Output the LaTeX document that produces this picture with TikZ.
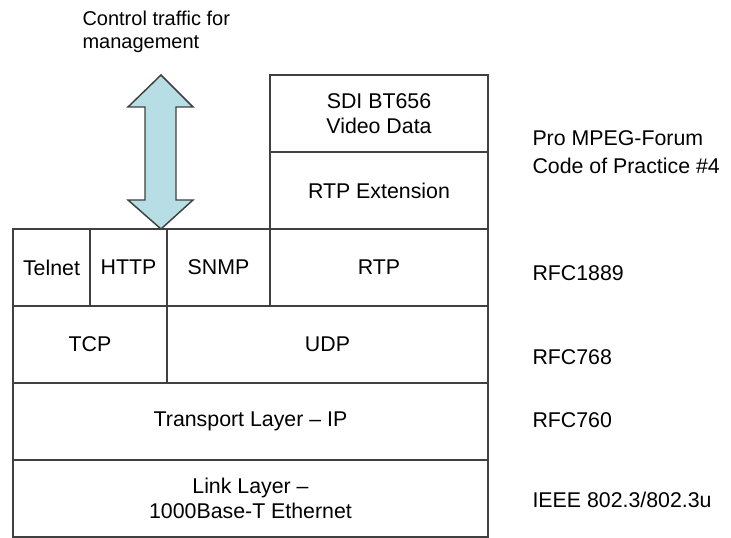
\documentclass[tikz,border=0pt]{standalone}
\usepackage{fontspec}
\setmainfont{Liberation Sans}

\tikzset{every picture/.style={line width=0.75pt}}
\tikzset{
	layer/.style={draw={rgb, 255:red, 64; green, 64; blue, 64 }, line width=1.1pt, inner sep=0pt, align=center,
		minimum width={#1*0.75pt}, minimum height=57.75pt, font=\fontsize{16pt}{19pt}\selectfont},
	note/.style={anchor=west, inner sep=0pt, align=left, font=\fontsize{16pt}{19pt}\selectfont}}

\begin{document}
\begin{tikzpicture}[x=0.75pt,y=0.75pt,yscale=-1,xscale=1]
	\useasboundingbox (0,0) rectangle (731,538);

	%Shape: Rectangle -- video stack
	\node [layer=218] (sdi) at (379,113.5) {SDI BT656\\Video Data};
	\node [layer=218] (rtpext) at (379,190.5) {RTP Extension};
	%Shape: Rectangle -- application row
	\node [layer=77] (telnet) at (51.5,267.5) {Telnet};
	\node [layer=77] (http) at (128.5,267.5) {HTTP};
	\node [layer=103] (snmp) at (218.5,267.5) {SNMP};
	\node [layer=218] (rtp) at (379,267.5) {RTP};
	%Shape: Rectangle -- transport row
	\node [layer=154] (tcp) at (90,344.5) {TCP};
	\node [layer=321] (udp) at (327.5,344.5) {UDP};
	%Shape: Rectangle -- lower layers
	\node [layer=475] (ip) at (250.5,421.5) {Transport Layer -- IP};
	\node [layer=475] (link) at (250.5,498.5) {Link Layer --\\1000Base-T Ethernet};

	%Shape: Up Down Arrow
	\draw [draw={rgb, 255:red, 64; green, 64; blue, 64 }, fill={rgb, 255:red, 183; green, 221; blue, 229 }, line width=1.1pt]
		(161,75) -- (193,107) -- (176,107) -- (176,200) -- (193,200) -- (161,229) -- (128,200) -- (145,200) -- (145,107) -- (128,107) -- cycle ;

	% Text Node
	\node [note, font=\fontsize{15pt}{17.25pt}\selectfont] (ctrl) at (82,31.5) {Control traffic for\\management};
	% Text Node
	\node [note] (mpeg) at (532,152) {Pro MPEG-Forum\\[2pt]Code of Practice \#4};
	% Text Node
	\node [note] (rfcrtp) at (532,273) {RFC1889};
	% Text Node
	\node [note] (rfcudp) at (532,357) {RFC768};
	% Text Node
	\node [note] (rfcip) at (532,420) {RFC760};
	% Text Node
	\node [note] (ieee) at (532,500) {IEEE 802.3/802.3u};

\end{tikzpicture}
\end{document}
